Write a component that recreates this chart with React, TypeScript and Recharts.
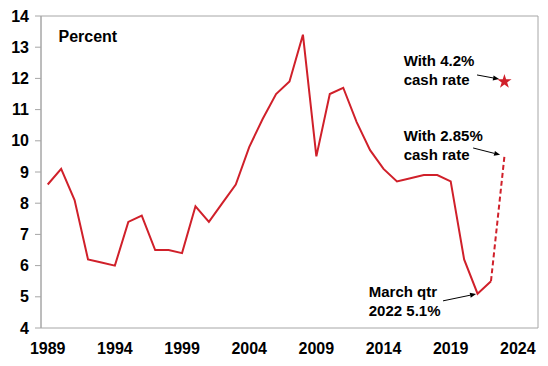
import {
  ComposedChart,
  Line,
  Scatter,
  XAxis,
  YAxis,
  ReferenceArea,
  ReferenceLine,
  ReferenceDot,
} from "recharts";

// annual values, plotted at mid-year
const years = [
  1989, 1990, 1991, 1992, 1993, 1994, 1995, 1996, 1997, 1998, 1999, 2000,
  2001, 2002, 2003, 2004, 2005, 2006, 2007, 2008, 2009, 2010, 2011, 2012,
  2013, 2014, 2015, 2016, 2017, 2018, 2019, 2020, 2021, 2022,
];
const rates = [
  8.6, 9.1, 8.1, 6.2, 6.1, 6.0, 7.4, 7.6, 6.5, 6.5, 6.4, 7.9, 7.4, 8.0, 8.6,
  9.8, 10.7, 11.5, 11.9, 13.4, 9.5, 11.5, 11.7, 10.6, 9.7, 9.1, 8.7, 8.8, 8.9,
  8.9, 8.7, 6.2, 5.1, 5.5,
];
const projYear = 2023;
const projWith285 = 9.5;
const projWith42 = 11.9;

const yTicks = [4, 5, 6, 7, 8, 9, 10, 11, 12, 13, 14];
const yearTicks = [1989, 1994, 1999, 2004, 2009, 2014, 2019, 2024];

const RED = "#d0202a";
const GREY = "#a6a6a6";
const FONT = "'Liberation Sans', Arial, sans-serif";

const data = [
  ...years.map((y, i) => ({
    x: y + 0.5,
    actual: rates[i],
    projected: i === years.length - 1 ? rates[i] : null,
  })),
  { x: projYear + 0.5, actual: null, projected: projWith285 },
];
const starData = [{ x: projYear + 0.5, y: projWith42 }];

const Note = ({ cx, cy, lines, size = 15 }: any) => (
  <text
    x={cx}
    y={cy}
    fontFamily={FONT}
    fontWeight="bold"
    fontSize={size}
    fill="#000"
  >
    {lines.map((l: string, i: number) => (
      <tspan key={i} x={cx} dy={i ? 19 : 0}>
        {l}
      </tspan>
    ))}
  </text>
);

const Arrow = ({ x1, y1, x2, y2 }: any) => {
  const a = Math.atan2(y2 - y1, x2 - x1);
  const len = 6;
  const w = 2.5;
  const bx = x2 - len * Math.cos(a);
  const by = y2 - len * Math.sin(a);
  const px = -Math.sin(a) * w;
  const py = Math.cos(a) * w;
  return (
    <g>
      <line x1={x1} y1={y1} x2={bx} y2={by} stroke="#000" strokeWidth={1} />
      <polygon
        points={`${x2},${y2} ${bx + px},${by + py} ${bx - px},${by - py}`}
        fill="#000"
      />
    </g>
  );
};

export default function App() {
  const tickStyle = {
    fontFamily: FONT,
    fontWeight: "bold",
    fontSize: 16,
    fill: "#000",
  };
  return (
    <div style={{ position: "absolute", left: 0, top: 0 }}>
      <ComposedChart
        width={548}
        height={366}
        data={data}
        margin={{ top: 16, right: 10, left: 0, bottom: 0 }}
      >
        <XAxis
          xAxisId={0}
          dataKey="x"
          type="number"
          domain={[1989, 2026]}
          ticks={yearTicks}
          tick={false}
          tickSize={5}
          height={0}
          axisLine={{ stroke: GREY }}
          tickLine={{ stroke: GREY }}
          allowDataOverflow
        />
        <XAxis
          xAxisId={1}
          dataKey="x"
          type="number"
          domain={[1989, 2026]}
          ticks={yearTicks.map((t) => t + 0.5)}
          tickFormatter={(v: number) => String(Math.floor(v))}
          interval={0}
          tickLine={false}
          axisLine={false}
          tickSize={5}
          tickMargin={10}
          height={38}
          tick={tickStyle}
          allowDataOverflow
        />
        <YAxis
          type="number"
          domain={[4, 14]}
          ticks={yTicks}
          interval={0}
          width={41}
          tickSize={6}
          tickMargin={6}
          axisLine={{ stroke: GREY }}
          tickLine={{ stroke: GREY }}
          tick={tickStyle}
          allowDataOverflow
        />
        <ReferenceArea
          x1={1989}
          x2={2026}
          y1={4}
          y2={14}
          fill="none"
          stroke={GREY}
          strokeWidth={1}
          ifOverflow="visible"
        />
        <Line
          dataKey="actual"
          stroke={RED}
          strokeWidth={2}
          dot={false}
          isAnimationActive={false}
        />
        <Line
          dataKey="projected"
          stroke={RED}
          strokeWidth={2}
          strokeDasharray="5 3"
          dot={false}
          isAnimationActive={false}
        />
        <Scatter
          data={starData}
          dataKey="y"
          shape="star"
          fill={RED}
          isAnimationActive={false}
        />
        <ReferenceDot
          x={1990.3}
          y={13.17}
          r={0}
          ifOverflow="visible"
          shape={(p: any) => <Note {...p} lines={["Percent"]} size={16} />}
        />
        <ReferenceDot
          x={2016}
          y={12.4}
          r={0}
          ifOverflow="visible"
          shape={(p: any) => <Note {...p} lines={["With 4.2%", "cash rate"]} />}
        />
        <ReferenceDot
          x={2016}
          y={10}
          r={0}
          ifOverflow="visible"
          shape={(p: any) => <Note {...p} lines={["With 2.85%", "cash rate"]} />}
        />
        <ReferenceDot
          x={2013.4}
          y={5.0}
          r={0}
          ifOverflow="visible"
          shape={(p: any) => <Note {...p} lines={["March qtr", "2022 5.1%"]} />}
        />
        <ReferenceLine
          segment={[
            { x: 2021.46, y: 12.11 },
            { x: 2023.1, y: 11.98 },
          ]}
          ifOverflow="visible"
          shape={(p: any) => <Arrow {...p} />}
        />
        <ReferenceLine
          segment={[
            { x: 2021.17, y: 9.77 },
            { x: 2023.18, y: 9.55 },
          ]}
          ifOverflow="visible"
          shape={(p: any) => <Arrow {...p} />}
        />
        <ReferenceLine
          segment={[
            { x: 2018.93, y: 4.87 },
            { x: 2021.39, y: 5.09 },
          ]}
          ifOverflow="visible"
          shape={(p: any) => <Arrow {...p} />}
        />
      </ComposedChart>
    </div>
  );
}
